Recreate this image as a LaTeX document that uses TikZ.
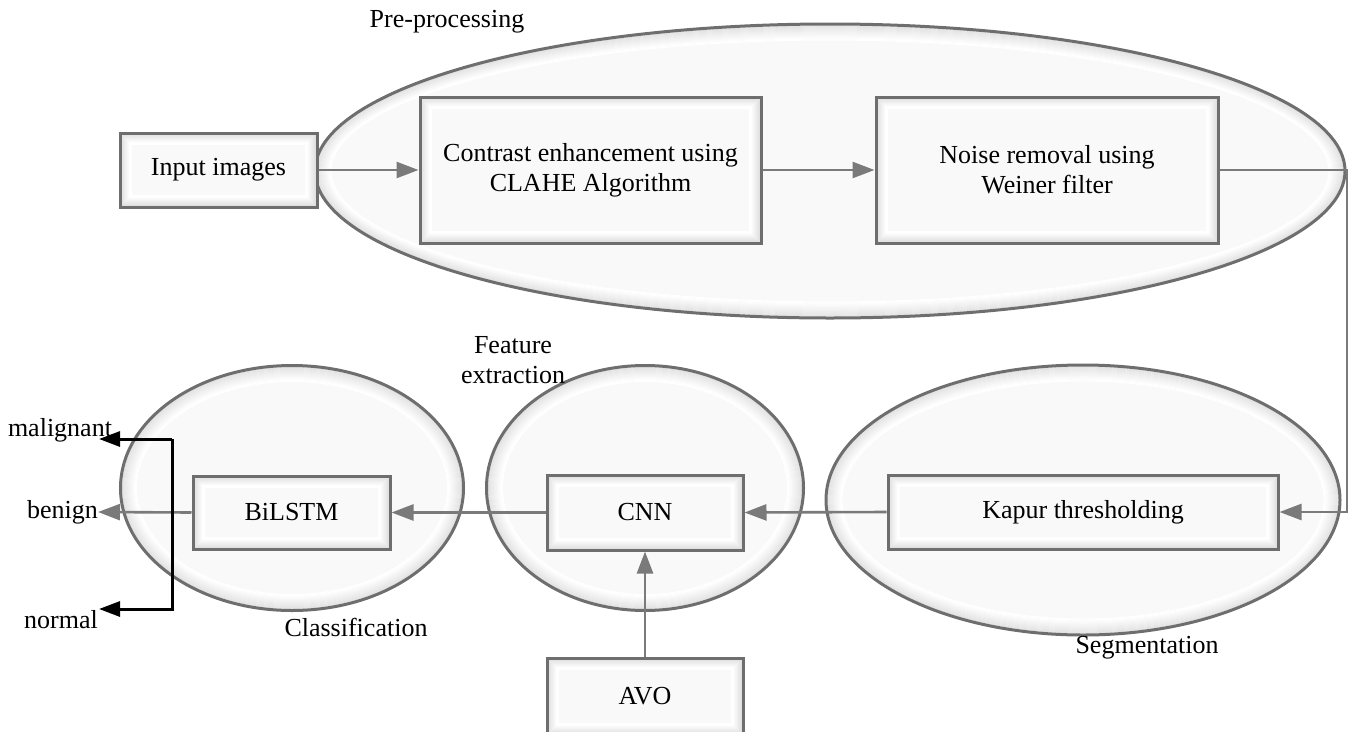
\documentclass[tikz,border=0pt]{standalone}
\usepackage{fontspec}
\setmainfont{Liberation Serif}
\usetikzlibrary{arrows.meta,shapes.geometric,calc}

\definecolor{edge}{HTML}{6E6E6E}
\definecolor{wire}{HTML}{7A7A7A}
\definecolor{paper}{HTML}{F9F9F9}

\tikzset{
  % rectangular processing step with a soft inner shadow
  stagebox/.style={draw=edge, line width=3pt, fill=paper, inner sep=0pt, align=center,
    font=\fontsize{26}{30}\selectfont,
    path picture={\foreach \i in {2,...,11}{%
      \pgfmathsetmacro\c{max(0,30-2.9*\i)}%
      \draw[gray!\c, line width=1.1pt]
        ([shift={(\i pt,-\i pt)}]path picture bounding box.north west) rectangle
        ([shift={(-\i pt,\i pt)}]path picture bounding box.south east);}}},
  % oval grouping a stage of the pipeline
  stageoval/.style={ellipse, draw=edge, line width=3pt, fill=paper, inner sep=0pt,
    path picture={\foreach \i in {2,...,16}{%
      \pgfmathsetmacro\c{max(0,26-1.75*\i)}%
      \draw[gray!\c, line width=1.1pt]
        let \p1=(path picture bounding box.north east),
            \p2=(path picture bounding box.center) in
        (\p2) ellipse [x radius={\x1-\x2-\i pt}, y radius={\y1-\y2-\i pt}];}}},
  caption/.style={font=\fontsize{26}{30}\selectfont, inner sep=0pt, align=center},
  flow/.style={draw=wire, line width=2.6pt, -{Triangle[length=22pt,width=16pt]}},
  outcome/.style={draw=black, line width=3pt, -{Triangle[length=21pt,width=15pt]}},
}

\begin{document}
\begin{tikzpicture}[x=1pt, y=-1pt]
\path[use as bounding box] (0,0) rectangle (1349,731);

% stage ovals
\node[stageoval, minimum width=1030pt, minimum height=294pt] (pre)  at (830,171) {};
\node[stageoval, minimum width=514pt,  minimum height=270pt] (seg)  at (1083,500) {};
\node[stageoval, minimum width=317pt,  minimum height=245pt] (feat) at (645,488) {};
\node[stageoval, minimum width=343pt,  minimum height=245pt] (cls)  at (292,488) {};

% stage titles
\node[caption] (tpre)  at (447,22)  {Pre-processing};
\node[caption] (tseg)  at (1147,648) {Segmentation};
\node[caption] (tfeat) at (513,360) {Feature\\extraction};
\node[caption] (tcls)  at (356,627) {Classification};

% processing steps
\node[stagebox, minimum width=197pt, minimum height=74pt]  (input)  at (218.5,170) {Input images};
\node[stagebox, minimum width=341pt, minimum height=146pt] (clahe)  at (590.5,170) {Contrast enhancement using\\CLAHE Algorithm};
\node[stagebox, minimum width=342pt, minimum height=146pt] (noise)  at (1047,170) {Noise removal using\\Weiner filter};
\node[stagebox, minimum width=390pt, minimum height=74pt]  (kapur)  at (1083,512) {Kapur thresholding};
\node[stagebox, minimum width=196pt, minimum height=75pt]  (cnn)    at (645,512.5) {CNN};
\node[stagebox, minimum width=197pt, minimum height=73pt]  (bilstm) at (291.5,512.5) {BiLSTM};
\node[stagebox, minimum width=196pt, minimum height=77pt]  (avo)    at (645,696.5) {AVO};

% class labels
\node[caption] (malignant) at (60,430) {malignant};
\node[caption, anchor=east] (benign) at (98,512) {benign};
\node[caption] (normal) at (61,620) {normal};
\coordinate (mtip) at (99,439);
\coordinate (ntip) at (99,609);
\coordinate (fork) at (172,439);
\coordinate (turn1) at (1347,170);

% connectors
\draw[flow] (input.east) -- (clahe.west);
\draw[flow] (clahe.east) -- (noise.west);
\draw[flow] (noise.east) -- (turn1) |- (kapur.east);
\draw[flow] (kapur.west) -- (cnn.east);
\draw[flow] (avo.north) -- (cnn.south);
\draw[flow] (cnn.west) -- (bilstm.east);
\draw[flow] (bilstm.west) -- (benign.east);
\draw[outcome] (fork) -- (mtip);
\draw[outcome] (fork) |- (ntip);
\end{tikzpicture}
\end{document}
